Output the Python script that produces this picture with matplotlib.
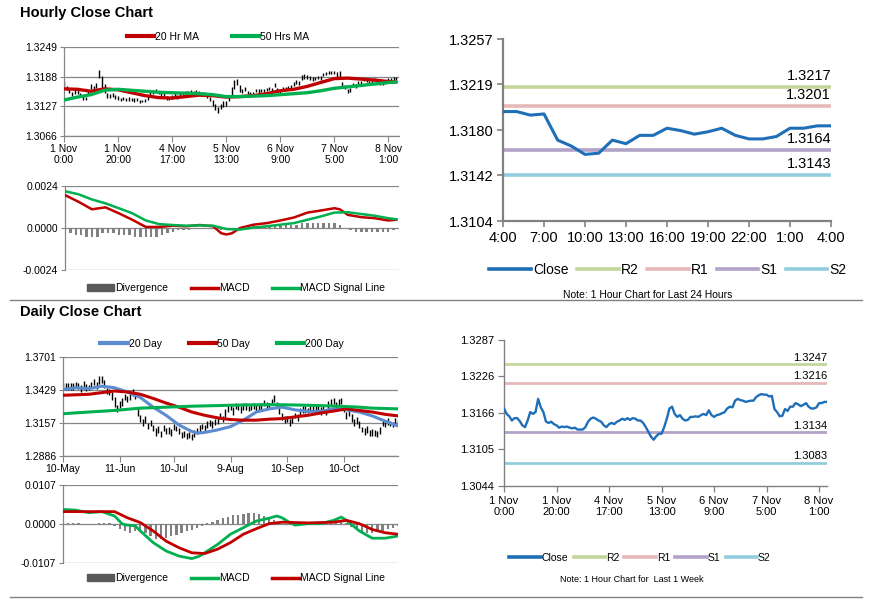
import numpy as np
import matplotlib
matplotlib.use('Agg')
import matplotlib.pyplot as plt
from matplotlib.lines import Line2D
from matplotlib.patches import Patch

plt.rcParams['font.family'] = ['Liberation Sans', 'DejaVu Sans']

# ---------------- dados: grafico horario (1 Nov 0:00 -> 8 Nov 3:00) ----------------
hourly_close = [
    1.3173, 1.3164, 1.3160, 1.3153, 1.3157, 1.3157, 1.3152, 1.3145, 1.3142, 1.3153,
    1.3167, 1.3164, 1.3167, 1.3189, 1.3175, 1.3167, 1.3151, 1.3149, 1.3151, 1.3147,
    1.3145, 1.3141, 1.3143, 1.3142, 1.3143, 1.3141, 1.3140, 1.3141, 1.3138, 1.3138,
    1.3138, 1.3142, 1.3151, 1.3156, 1.3158, 1.3156, 1.3153, 1.3151, 1.3145, 1.3142,
    1.3147, 1.3149, 1.3147, 1.3151, 1.3153, 1.3156, 1.3154, 1.3157, 1.3154, 1.3157,
    1.3156, 1.3153, 1.3153, 1.3149, 1.3142, 1.3134, 1.3126, 1.3121, 1.3127, 1.3131,
    1.3131, 1.3142, 1.3156, 1.3173, 1.3176, 1.3164, 1.3159, 1.3162, 1.3156, 1.3153,
    1.3154, 1.3159, 1.3159, 1.3160, 1.3159, 1.3162, 1.3164, 1.3162, 1.3170, 1.3162,
    1.3159, 1.3162, 1.3163, 1.3165, 1.3167, 1.3173, 1.3176, 1.3175, 1.3186, 1.3189,
    1.3187, 1.3186, 1.3184, 1.3185, 1.3186, 1.3186, 1.3192, 1.3195, 1.3197,
    1.3196, 1.3196, 1.3193, 1.3194, 1.3172, 1.3167, 1.3160, 1.3161, 1.3172, 1.3169,
    1.3176, 1.3176, 1.3182, 1.3180, 1.3177, 1.3179, 1.3182, 1.3176, 1.3173, 1.3173,
    1.3175, 1.3182, 1.3182, 1.3184, 1.3184,
]
hourly_hi_pips = [
    6, 5, 4, 3, 5, 4, 3, 3, 5, 8,
    5, 4, 8, 12, 14, 5, 4, 3, 3, 4,
    3, 3, 4, 3, 3, 3, 4, 3, 3, 3,
    4, 6, 6, 4, 4, 3, 3, 3, 4, 4,
    4, 5, 4, 3, 4, 3, 4, 4, 4, 4,
    3, 4, 3, 3, 4, 5, 6, 5, 5, 6,
    6, 8, 10, 8, 8, 6, 4, 4, 3, 3,
    3, 4, 3, 3, 4, 3, 3, 3, 5, 3,
    3, 4, 4, 3, 4, 5, 6, 5, 6, 4,
    4, 3, 3, 3, 3, 3, 4, 3, 3, 3,
    4, 5, 6, 5, 4, 3, 4, 4, 3, 3,
    3, 3, 4, 3, 3, 4, 3, 3, 3, 3,
    3, 3, 4, 3,
]
hourly_lo_pips = [
    4, 4, 5, 4, 4, 4, 4, 4, 3, 3,
    4, 4, 3, 4, 14, 12, 6, 4, 4, 4,
    4, 4, 4, 4, 5, 4, 4, 4, 4, 3,
    3, 3, 3, 4, 3, 4, 4, 4, 4, 3,
    4, 3, 4, 4, 3, 3, 4, 3, 4, 3,
    4, 4, 3, 4, 5, 6, 6, 8, 5, 5,
    4, 5, 5, 10, 6, 8, 5, 4, 4, 4,
    3, 3, 4, 3, 3, 4, 3, 4, 3, 5,
    4, 3, 3, 3, 3, 4, 4, 4, 4, 5,
    4, 4, 4, 3, 3, 4, 3, 3, 3, 3,
    3, 6, 8, 6, 4, 5, 4, 3, 4, 3,
    4, 3, 3, 4, 3, 3, 4, 3, 3, 3,
    3, 3, 3, 3,
]
hourly_ticks = [0, 20, 40, 60, 80, 100, 120]
hourly_ticklabels = ['1 Nov\n0:00', '1 Nov\n20:00', '4 Nov\n17:00', '5 Nov\n13:00',
                     '6 Nov\n9:00', '7 Nov\n5:00', '8 Nov\n1:00']

ma_idx = [0, 5, 10, 15, 20, 25, 30, 35, 40, 45, 50, 55, 60, 65, 70, 75, 80, 85,
          90, 95, 100, 105, 110, 115, 120, 123]
ma20_hr = [1.3163, 1.3162, 1.3158, 1.3163, 1.3161, 1.3155, 1.3149, 1.3145, 1.3144, 1.3147,
           1.3150, 1.3149, 1.3146, 1.3147, 1.3149, 1.3153, 1.3159, 1.3162, 1.3168, 1.3176,
           1.3184, 1.3185, 1.3183, 1.3181, 1.3178, 1.3177]
ma50_hr = [1.3140, 1.3146, 1.3151, 1.3160, 1.3162, 1.3160, 1.3158, 1.3156, 1.3155, 1.3154,
           1.3153, 1.3151, 1.3147, 1.3147, 1.3148, 1.3149, 1.3151, 1.3153, 1.3155, 1.3159,
           1.3164, 1.3167, 1.3170, 1.3173, 1.3176, 1.3177]

macd_h_idx = [0, 5, 10, 15, 20, 25, 30, 35, 40, 45, 50, 55, 58, 60, 62, 65, 70, 75, 80,
              85, 90, 95, 100, 102, 105, 110, 115, 120, 123]
macd_h = [0.00188, 0.00150, 0.00107, 0.00118, 0.00084, 0.00047, 0.00006, 0.00006, 0.00013,
          0.00010, 0.00017, 0.00010, -0.00030, -0.00037, -0.00030, 0.00000, 0.00019, 0.00028,
          0.00043, 0.00060, 0.00088, 0.00100, 0.00113, 0.00107, 0.00075, 0.00062, 0.00056,
          0.00043, 0.00047]
signal_h_idx = [0, 5, 10, 15, 20, 25, 30, 35, 40, 45, 50, 55, 60, 65, 70, 75, 80, 85, 90,
                95, 100, 105, 110, 115, 120, 123]
signal_h = [0.00210, 0.00193, 0.00163, 0.00141, 0.00113, 0.00084, 0.00043, 0.00022, 0.00017,
            0.00013, 0.00015, 0.00013, -0.00006, -0.00009, 0.00002, 0.00010, 0.00019, 0.00028,
            0.00047, 0.00066, 0.00088, 0.00090, 0.00080, 0.00070, 0.00056, 0.00050]
div_h = [-0.0002, -0.0003, -0.0004, -0.0004, -0.0005, -0.0005, -0.0005, -0.0003, -0.0003, -0.0003,
         -0.0004, -0.0004, -0.0004, -0.0005, -0.0005, -0.0005, -0.0005, -0.0005, -0.0004, -0.0003,
         -0.0002, -0.0001, -0.0001, -0.0001, 0.00002, 0.00002, 0.00002, 0.00002, -0.0001, -0.0001,
         -0.0001, -0.0001, 0.00002, 0.0001, 0.0001, 0.0001, 0.0001, 0.0001, 0.0001, 0.0001,
         0.0001, 0.0002, 0.0002, 0.0002, 0.0003, 0.0003, 0.0003, 0.0003, 0.0003, 0.0003,
         0.0003, 0.0002, 0.00002, -0.0001, -0.0002, -0.0002, -0.0002, -0.0002, -0.0002, -0.0002,
         -0.0002, -0.0001]

# ultimas 24 horas (7 Nov 4:00 -> 8 Nov 4:00)
last24_ticklabels = ['4:00', '7:00', '10:00', '13:00', '16:00', '19:00', '22:00', '1:00', '4:00']
levels_24 = {'R2': 1.3217, 'R1': 1.3201, 'S1': 1.3164, 'S2': 1.3143}
levels_week = {'R2': 1.3247, 'R1': 1.3216, 'S1': 1.3134, 'S2': 1.3083}

# ---------------- dados: grafico diario (10-May -> 8-Nov) ----------------
daily_close = [
    1.3461, 1.3455, 1.3468, 1.3448, 1.3461, 1.3474, 1.3455, 1.3448, 1.3461, 1.3455,
    1.3448, 1.3468, 1.3488, 1.3474, 1.3501, 1.3514, 1.3488, 1.3421, 1.3408, 1.3381,
    1.3328, 1.3274, 1.3314, 1.3341, 1.3368, 1.3354, 1.3381, 1.3408, 1.3394, 1.3248,
    1.3194, 1.3168, 1.3181, 1.3141, 1.3154, 1.3114, 1.3088, 1.3101, 1.3074, 1.3114,
    1.3088, 1.3101, 1.3074, 1.3128, 1.3114, 1.3088, 1.3061, 1.3074, 1.3048, 1.3061,
    1.3048, 1.3061, 1.3088, 1.3114, 1.3128, 1.3114, 1.3141, 1.3154, 1.3141, 1.3168,
    1.3181, 1.3208, 1.3194, 1.3234, 1.3274, 1.3288, 1.3261, 1.3301, 1.3288, 1.3274,
    1.3288, 1.3301, 1.3274, 1.3288, 1.3301, 1.3274, 1.3288, 1.3301, 1.3314, 1.3288,
    1.3301, 1.3328, 1.3354, 1.3314, 1.3261, 1.3208, 1.3181, 1.3194, 1.3168, 1.3181,
    1.3221, 1.3208, 1.3248, 1.3261, 1.3274, 1.3261, 1.3288, 1.3274, 1.3261, 1.3274,
    1.3261, 1.3274, 1.3248, 1.3301, 1.3328, 1.3341, 1.3314, 1.3328, 1.3341, 1.3274,
    1.3221, 1.3234, 1.3194, 1.3168, 1.3181, 1.3141, 1.3101, 1.3088, 1.3101, 1.3074,
    1.3088, 1.3074, 1.3061, 1.3101, 1.3154, 1.3141, 1.3168, 1.3154, 1.3141, 1.3168,
    1.3168,
]
daily_hi_pips = [
    25, 30, 20, 35, 25, 20, 30, 25, 40, 20,
    25, 30, 35, 25, 40, 30, 20, 25, 30, 35,
    40, 30, 25, 20, 30, 25, 35, 30, 20, 40,
    30, 25, 35, 20, 25, 30, 25, 35, 20, 25,
    30, 20, 35, 25, 20, 30, 25, 20, 30, 25,
    20, 35, 25, 30, 20, 25, 30, 25, 35, 20,
    25, 30, 20, 35, 40, 30, 25, 20, 30, 25,
    35, 20, 25, 30, 25, 35, 20, 25, 30, 40,
    25, 30, 35, 20, 25, 30, 35, 20, 25, 30,
    20, 25, 30, 35, 25, 20, 30, 25, 35, 20,
    25, 30, 20, 35, 30, 25, 20, 30, 25, 35,
    30, 25, 35, 20, 25, 30, 20, 25, 30, 25,
    20, 25, 30, 20, 35, 25, 30, 20, 25, 30,
    25,
]
daily_lo_pips = [
    20, 25, 35, 20, 30, 25, 20, 35, 25, 30,
    20, 25, 20, 35, 25, 30, 40, 25, 20, 30,
    35, 25, 30, 40, 25, 20, 30, 25, 35, 30,
    25, 35, 20, 30, 25, 20, 35, 25, 30, 20,
    25, 35, 20, 30, 25, 20, 30, 35, 20, 25,
    30, 20, 25, 35, 20, 30, 25, 20, 25, 30,
    35, 20, 25, 30, 25, 20, 35, 25, 20, 30,
    25, 35, 20, 25, 30, 20, 25, 35, 20, 25,
    30, 25, 20, 35, 30, 25, 20, 30, 35, 25,
    20, 30, 25, 20, 35, 25, 30, 20, 25, 30,
    35, 20, 25, 30, 20, 25, 35, 20, 30, 25,
    30, 20, 25, 35, 30, 25, 20, 30, 25, 20,
    35, 25, 20, 30, 25, 20, 30, 25, 20, 25,
    20,
]
daily_ticks = [0, 22, 43, 65, 87, 109]
daily_ticklabels = ['10-May', '11-Jun', '10-Jul', '9-Aug', '10-Sep', '10-Oct']

ma20_idx = [0, 5, 10, 15, 20, 25, 30, 35, 40, 45, 50, 52, 55, 60, 65, 70, 75, 80, 85, 90,
            95, 100, 105, 110, 115, 120, 125, 130]
ma20_d = [1.3434, 1.3448, 1.3440, 1.3461, 1.3448, 1.3413, 1.3368, 1.3288, 1.3221, 1.3141,
          1.3088, 1.3074, 1.3080, 1.3101, 1.3128, 1.3181, 1.3248, 1.3274, 1.3288, 1.3266,
          1.3253, 1.3253, 1.3274, 1.3266, 1.3248, 1.3216, 1.3173, 1.3133]
ma50_idx = [0, 10, 20, 25, 30, 35, 40, 45, 50, 55, 60, 65, 70, 75, 80, 85, 90, 95, 100,
            105, 110, 115, 120, 125, 130]
ma50_d = [1.3386, 1.3394, 1.3421, 1.3413, 1.3394, 1.3360, 1.3322, 1.3288, 1.3248, 1.3221,
          1.3200, 1.3186, 1.3181, 1.3181, 1.3189, 1.3194, 1.3208, 1.3221, 1.3240, 1.3256,
          1.3274, 1.3261, 1.3248, 1.3229, 1.3216]
ma200_idx = [0, 10, 20, 30, 40, 50, 60, 70, 80, 90, 100, 110, 115, 120, 130]
ma200_d = [1.3234, 1.3248, 1.3261, 1.3280, 1.3288, 1.3296, 1.3301, 1.3306, 1.3309, 1.3306,
           1.3301, 1.3293, 1.3288, 1.3280, 1.3274]

macd_d_idx = [0, 5, 10, 15, 20, 23, 25, 28, 30, 35, 40, 45, 50, 53, 55, 60, 65, 70, 75, 80,
              83, 85, 88, 90, 95, 100, 105, 108, 110, 115, 120, 125, 130]
macd_d = [0.0040, 0.0038, 0.0031, 0.0034, 0.0022, 0.0000, -0.0003, -0.0005, -0.0019, -0.0051,
          -0.0074, -0.0088, -0.0095, -0.0088, -0.0079, -0.0056, -0.0028, -0.0010, 0.0008, 0.0016,
          0.0022, 0.0017, 0.0004, -0.0003, 0.0001, 0.0001, 0.0010, 0.0019, 0.0010, -0.0019,
          -0.0039, -0.0039, -0.0033]
signal_d_idx = [0, 10, 20, 25, 30, 35, 40, 45, 50, 55, 60, 65, 70, 75, 80, 85, 90, 95, 100,
                105, 110, 115, 120, 125, 130]
signal_d = [0.0034, 0.0034, 0.0034, 0.0017, 0.0004, -0.0019, -0.0047, -0.0065, -0.0079, -0.0081,
            -0.0069, -0.0051, -0.0028, -0.0013, 0.0001, 0.0005, 0.0004, 0.0003, 0.0004, 0.0005,
            0.0010, 0.0001, -0.0015, -0.0024, -0.0028]
div_d = [0.0004, 0.0004, 0.0003, 0.0002, 0.00005, -0.0002, 0.00005, 0.0002, 0.0003, 0.0002,
         -0.0006, -0.0014, -0.0020, -0.0024, -0.0020, -0.0016, -0.0026, -0.0034, -0.0040, -0.0042,
         -0.0038, -0.0034, -0.0030, -0.0026, -0.0020, -0.0016, -0.0012, -0.0006, 0.0002, 0.0006,
         0.0010, 0.0016, 0.0020, 0.0024, 0.0026, 0.0028, 0.0030, 0.0030, 0.0028, 0.0022,
         0.0016, 0.0010, 0.0006, 0.00005, -0.0002, -0.0004, -0.0002, 0.00005, 0.00005, 0.00005,
         0.00005, 0.0002, 0.0004, 0.0006, 0.0006, 0.0002, -0.0008, -0.0016, -0.0022, -0.0026,
         -0.0026, -0.0022, -0.0018, -0.0014, -0.0010, -0.0006]

# ---------------- cores ----------------
RED = '#c00000'
GREEN = '#00b050'
BLUE20 = '#5b8bd0'
CLOSE = '#1f6fb8'
LEVEL_COLORS = {'R2': '#c4d79b', 'R1': '#e6b9b8', 'S1': '#b3a2c7', 'S2': '#93cddd'}
GRID = '#868686'
DIVC = '#808080'

W, H = 873, 601
fig = plt.figure(figsize=(W / 100, H / 100), dpi=100)


def box(left, top, right, bottom):
    return [left / W, 1 - bottom / H, (right - left) / W, (bottom - top) / H]


def fy(y):
    return 1 - y / H


def fx(x):
    return x / W


def grid_axes(ax, ticks, fmt):
    # estilo dos graficos da esquerda: linhas de grade cinza
    ax.set_yticks(ticks)
    ax.set_yticklabels([fmt.format(t) for t in ticks], fontsize=7.5)
    ax.set_ylim(ticks[0], ticks[-1])
    for t in ticks:
        ax.axhline(t, color=GRID, lw=0.9, zorder=0)
    for s in ['top', 'right']:
        ax.spines[s].set_visible(False)
    for s in ['left', 'bottom']:
        ax.spines[s].set_color(GRID)
        ax.spines[s].set_linewidth(0.9)
    ax.tick_params(axis='y', length=3, color=GRID, pad=2)
    ax.tick_params(axis='x', length=4, color=GRID, labelsize=7.5, pad=2)


def level_axes(ax, ticks, fmt, size):
    for s in ['top', 'right']:
        ax.spines[s].set_visible(False)
    for s in ['left', 'bottom']:
        ax.spines[s].set_color('#808080')
        ax.spines[s].set_linewidth(1.6)
    ax.set_yticks(ticks)
    ax.set_yticklabels([fmt.format(t) for t in ticks], fontsize=size)
    ax.set_ylim(ticks[0], ticks[-1])
    ax.tick_params(length=4, width=1.2, color='#808080', labelsize=size, pad=3)


# ================= Hourly Close Chart =================
fig.text(fx(20), fy(13), 'Hourly Close Chart', fontsize=10.5, fontweight='bold', va='center')

ax1 = fig.add_axes(box(64, 47, 399, 136))
x_h = np.arange(len(hourly_close))
hi = [c + p / 10000 for c, p in zip(hourly_close, hourly_hi_pips)]
lo = [c - p / 10000 for c, p in zip(hourly_close, hourly_lo_pips)]
ax1.vlines(x_h, lo, hi, color='black', lw=1.0, zorder=2)
ax1.plot(ma_idx, ma20_hr, color=RED, lw=2.4, zorder=3, solid_capstyle='round')
ax1.plot(ma_idx, ma50_hr, color=GREEN, lw=2.4, zorder=4, solid_capstyle='round')
ax1.set_xlim(0, 124)
ax1.set_xticks(hourly_ticks)
ax1.set_xticklabels(hourly_ticklabels, linespacing=1.1)
grid_axes(ax1, [1.3066, 1.3127, 1.3188, 1.3249], '{:.4f}')
fig.legend(handles=[Line2D([], [], color=RED, lw=3), Line2D([], [], color=GREEN, lw=3)],
           labels=['20 Hr MA', '50 Hrs MA'], loc='center', bbox_to_anchor=(fx(218), fy(37)),
           ncol=2, frameon=False, fontsize=7.5, handlelength=2.6, handletextpad=0.1,
           columnspacing=3.2)

ax2 = fig.add_axes(box(65, 186, 399, 270))
ax2.bar(np.arange(0, 124, 2), div_h, width=0.9, color=DIVC, zorder=1)
ax2.plot(macd_h_idx, macd_h, color=RED, lw=1.8, zorder=3)
ax2.plot(signal_h_idx, signal_h, color=GREEN, lw=1.8, zorder=4)
ax2.set_xlim(0, 124)
ax2.set_xticks([])
grid_axes(ax2, [-0.0024, 0.0, 0.0024], '{:.4f}')
ax2.spines['bottom'].set_visible(False)
fig.legend(handles=[Patch(color='#595959'), Line2D([], [], color=RED, lw=2.5),
                    Line2D([], [], color=GREEN, lw=2.5)],
           labels=['Divergence', 'MACD', 'MACD Signal Line'], loc='center',
           bbox_to_anchor=(fx(236), fy(288)), ncol=3, frameon=False, fontsize=7.5,
           handlelength=2.6, handleheight=0.6, handletextpad=0.1, columnspacing=2.2)

# ultimas 24 horas
ax3 = fig.add_axes(box(503, 39, 831, 221))
last24 = hourly_close[99:]
for name, val in levels_24.items():
    ax3.axhline(val, color=LEVEL_COLORS[name], lw=2.6, zorder=1)
    ax3.text(24, val + 0.0003, '{:.4f}'.format(val), ha='right', va='bottom', fontsize=10.5)
ax3.plot(np.arange(len(last24)), last24, color=CLOSE, lw=2.2, zorder=3)
ax3.set_xlim(0, 24)
ax3.set_xticks(np.arange(0, 25, 3))
ax3.set_xticklabels(last24_ticklabels)
level_axes(ax3, [1.3104, 1.3142, 1.3180, 1.3219, 1.3257], '{:.4f}', 10.5)
ax3.set_yticks([1.3104, 1.31423, 1.31805, 1.32188, 1.3257])
ax3.set_yticklabels(['1.3104', '1.3142', '1.3180', '1.3219', '1.3257'])
lvl_handles = [Line2D([], [], color=CLOSE, lw=2.6)] + \
              [Line2D([], [], color=LEVEL_COLORS[k], lw=2.6) for k in ['R2', 'R1', 'S1', 'S2']]
fig.legend(handles=lvl_handles, labels=['Close', 'R2', 'R1', 'S1', 'S2'], loc='center',
           bbox_to_anchor=(fx(668), fy(270)), ncol=5, frameon=False, fontsize=10,
           handlelength=3.0, handletextpad=0.15, columnspacing=0.6)
fig.text(fx(648), fy(295), 'Note: 1 Hour Chart for Last 24 Hours', ha='center', va='center',
         fontsize=7.5)

# ================= Daily Close Chart =================
fig.text(fx(20), fy(312), 'Daily Close Chart', fontsize=10.5, fontweight='bold', va='center')

ax4 = fig.add_axes(box(63, 357, 398, 456))
x_d = np.arange(len(daily_close))
dhi = [c + p / 10000 for c, p in zip(daily_close, daily_hi_pips)]
dlo = [c - p / 10000 for c, p in zip(daily_close, daily_lo_pips)]
ax4.vlines(x_d, dlo, dhi, color='black', lw=1.0, zorder=2)
ax4.plot(ma20_idx, ma20_d, color=BLUE20, lw=2.2, zorder=3)
ax4.plot(ma50_idx, ma50_d, color=RED, lw=2.2, zorder=3)
ax4.plot(ma200_idx, ma200_d, color=GREEN, lw=2.2, zorder=3)
ax4.set_xlim(0, 130)
ax4.set_xticks(daily_ticks)
ax4.set_xticklabels(daily_ticklabels)
grid_axes(ax4, [1.2886, 1.3157, 1.3429, 1.3701], '{:.4f}')
ax4.set_yticks([1.2886, 1.31573, 1.34287, 1.3701])
ax4.set_yticklabels(['1.2886', '1.3157', '1.3429', '1.3701'])
fig.legend(handles=[Line2D([], [], color=BLUE20, lw=3), Line2D([], [], color=RED, lw=3),
                    Line2D([], [], color=GREEN, lw=3)],
           labels=['20 Day', '50 Day', '200 Day'], loc='center', bbox_to_anchor=(fx(222), fy(344)),
           ncol=3, frameon=False, fontsize=7.5, handlelength=2.6, handletextpad=0.1,
           columnspacing=2.6)

ax5 = fig.add_axes(box(63, 485, 398, 563))
ax5.bar(np.arange(0, 131, 2), div_d, width=0.9, color=DIVC, zorder=1)
ax5.plot(macd_d_idx, macd_d, color=GREEN, lw=2.0, zorder=3)
ax5.plot(signal_d_idx, signal_d, color=RED, lw=2.0, zorder=4)
ax5.set_xlim(0, 130)
ax5.set_xticks([])
grid_axes(ax5, [-0.0107, 0.0, 0.0107], '{:.4f}')
ax5.spines['bottom'].set_visible(False)
fig.legend(handles=[Patch(color='#595959'), Line2D([], [], color=GREEN, lw=2.5),
                    Line2D([], [], color=RED, lw=2.5)],
           labels=['Divergence', 'MACD', 'MACD Signal Line'], loc='center',
           bbox_to_anchor=(fx(236), fy(578)), ncol=3, frameon=False, fontsize=7.5,
           handlelength=2.6, handleheight=0.6, handletextpad=0.1, columnspacing=2.2)

# ultima semana
ax6 = fig.add_axes(box(504, 340, 827, 486))
for name, val in levels_week.items():
    ax6.axhline(val, color=LEVEL_COLORS[name], lw=2.0, zorder=1)
    ax6.text(123, val + 0.0002, '{:.4f}'.format(val), ha='right', va='bottom', fontsize=8)
ax6.plot(x_h, hourly_close, color=CLOSE, lw=1.7, zorder=3)
ax6.set_xlim(0, 123)
ax6.set_xticks(hourly_ticks)
ax6.set_xticklabels(hourly_ticklabels, linespacing=1.1)
level_axes(ax6, [1.3044, 1.31048, 1.31655, 1.32263, 1.3287], '{:.4f}', 8)
ax6.set_yticklabels(['1.3044', '1.3105', '1.3166', '1.3226', '1.3287'])
for s in ['left', 'bottom']:
    ax6.spines[s].set_linewidth(1.0)
ax6.tick_params(width=0.9)
fig.legend(handles=lvl_handles, labels=['Close', 'R2', 'R1', 'S1', 'S2'], loc='center',
           bbox_to_anchor=(fx(640), fy(558)), ncol=5, frameon=False, fontsize=7.5,
           handlelength=3.0, handletextpad=0.1, columnspacing=0.5)
fig.text(fx(632), fy(579), 'Note: 1 Hour Chart for  Last 1 Week', ha='center', va='center',
         fontsize=6.5)

# linhas separadoras
for ysep in [300, 597]:
    fig.add_artist(Line2D([fx(10), fx(862)], [fy(ysep), fy(ysep)], color='#808080', lw=1.0))

fig.savefig('out.png', dpi=100)
